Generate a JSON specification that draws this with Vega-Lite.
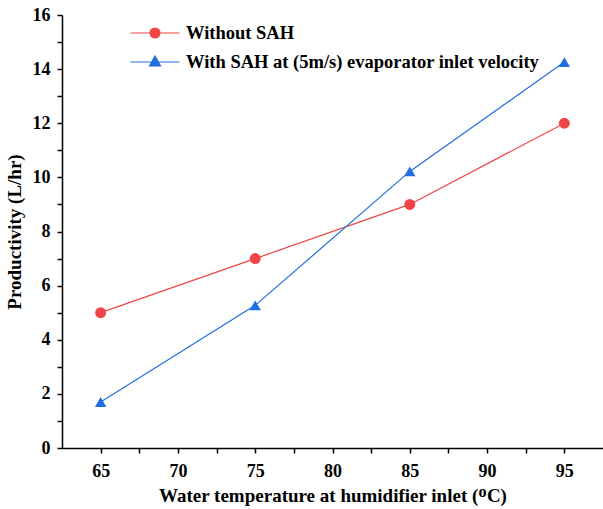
{
  "$schema": "https://vega.github.io/schema/vega-lite/v6.json",
  "width": 541,
  "height": 433,
  "autosize": "none",
  "padding": {"left": 62, "top": 15, "right": 0, "bottom": 61},
  "background": "white",
  "config": {
    "view": {"stroke": null},
    "font": "Liberation Serif",
    "axis": {
      "domainColor": "black", "domainWidth": 1.5, "tickColor": "black", "tickWidth": 1.5,
      "grid": false, "labelFont": "Liberation Serif", "labelFontWeight": "bold", "labelFontSize": 18,
      "labelColor": "black", "titleFont": "Liberation Serif", "titleFontWeight": "bold",
      "titleFontSize": 19, "titleColor": "black", "labelFlush": false, "labelOverlap": false
    }
  },
  "data": {
    "values": [
      {"temp": 65, "prod": 5.0, "series": "Without SAH"},
      {"temp": 75, "prod": 7.0, "series": "Without SAH"},
      {"temp": 85, "prod": 9.0, "series": "Without SAH"},
      {"temp": 95, "prod": 12.0, "series": "Without SAH"},
      {"temp": 65, "prod": 1.7, "series": "With SAH at (5m/s) evaporator inlet velocity"},
      {"temp": 75, "prod": 5.27, "series": "With SAH at (5m/s) evaporator inlet velocity"},
      {"temp": 85, "prod": 10.22, "series": "With SAH at (5m/s) evaporator inlet velocity"},
      {"temp": 95, "prod": 14.26, "series": "With SAH at (5m/s) evaporator inlet velocity"}
    ]
  },
  "encoding": {
    "x": {
      "field": "temp", "type": "quantitative",
      "scale": {"domain": [62.5, 97.5], "nice": false, "zero": false},
      "axis": {
        "title": "Water temperature at humidifier inlet (ᴼC)",
        "values": [65, 67.5, 70, 72.5, 75, 77.5, 80, 82.5, 85, 87.5, 90, 92.5, 95],
        "labelExpr": "datum.value % 5 === 0 ? datum.label : ''",
        "tickSize": 5, "labelPadding": 9, "titlePadding": 6,
        "encode": {"ticks": {"update": {"y2": {"signal": "datum.value % 5 === 0 ? 5 : 3"}}}}
      }
    },
    "y": {
      "field": "prod", "type": "quantitative",
      "scale": {"domain": [0, 16], "nice": false},
      "axis": {
        "title": "Productivity (L/hr)",
        "values": [0,1,2,3,4,5,6,7,8,9,10,11,12,13,14,15,16],
        "labelExpr": "datum.value % 2 === 0 ? datum.label : ''",
        "tickSize": 5, "labelPadding": 7, "titlePadding": 8,
        "encode": {"ticks": {"update": {"x2": {"signal": "datum.value % 2 === 0 ? -5 : -3"}}}}
      }
    },
    "color": {
      "field": "series", "type": "nominal",
      "scale": {"domain": ["Without SAH", "With SAH at (5m/s) evaporator inlet velocity"], "range": ["#F04545", "#1F6FE0"]},
      "legend": {
        "title": null, "orient": "none", "legendX": 82, "legendY": 7,
        "labelFont": "Liberation Serif", "labelFontWeight": "bold", "labelFontSize": 18.5, "labelColor": "black",
        "labelLimit": 0,
        "symbolSize": 400, "symbolStrokeWidth": 1.2, "labelOffset": 20, "rowPadding": 8,
        "encode": {
          "symbols": {
            "update": {
              "shape": {"signal": "datum.value === 'Without SAH' ? 'M-2.45,0H2.45M-0.5,0A0.5,0.5 0 1,0 0.5,0A0.5,0.5 0 1,0 -0.5,0Z' : 'M-2.45,0H2.45M0,-0.6L0.55,0.4L-0.55,0.4Z'"},
              "fill": {"signal": "datum.value === 'Without SAH' ? '#F04545' : '#1F6FE0'"},
              "fillOpacity": {"value": 1},
              "opacity": {"value": 1}
            }
          }
        }
      }
    }
  },
  "layer": [
    {"mark": {"type": "line", "strokeWidth": 1.2}},
    {
      "transform": [{"filter": "datum.series === 'Without SAH'"}],
      "mark": {"type": "point", "shape": "circle", "filled": true, "opacity": 1, "size": 120}
    },
    {
      "transform": [{"filter": "datum.series !== 'Without SAH'"}],
      "mark": {"type": "point", "shape": "triangle-up", "filled": true, "opacity": 1, "size": 130}
    }
  ]
}
